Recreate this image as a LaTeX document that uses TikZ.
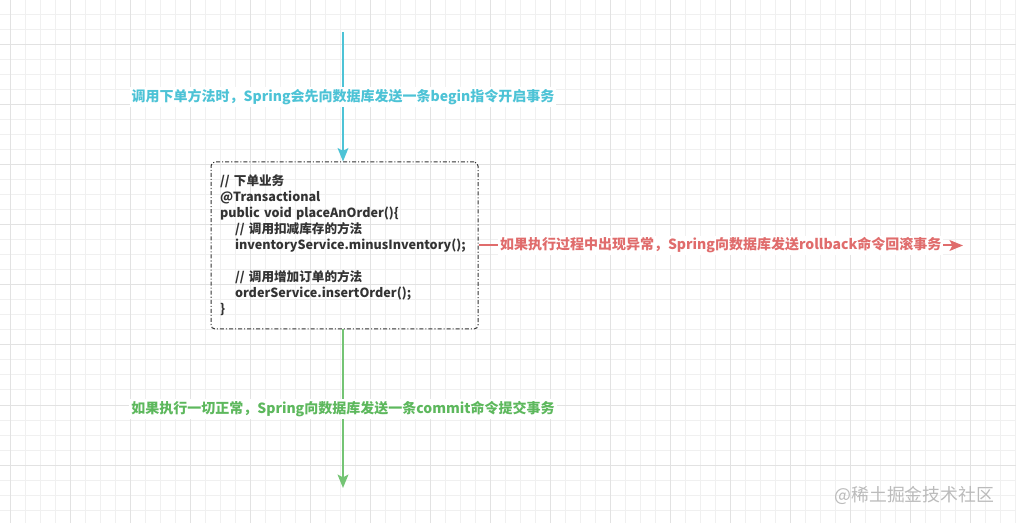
\documentclass[tikz,border=0pt]{standalone}
\usepackage{fontspec}
\setmainfont{Noto Sans CJK SC}
\newfontfamily\wmfont{Noto Sans CJK SC}
\usetikzlibrary{arrows.meta}
\definecolor{gridminor}{HTML}{F0F0F0}
\definecolor{gridmajor}{HTML}{E2E2E2}
\definecolor{cyanc}{HTML}{4DC3D6}
\definecolor{redc}{HTML}{E06C6C}
\definecolor{greenc}{HTML}{5DB85D}
\definecolor{greenline}{HTML}{74C474}
\definecolor{codec}{HTML}{333333}
\definecolor{wmc}{HTML}{BBBBBB}
\tikzset{
  minorline/.style={gridminor, line width=0.75pt},
  majorline/.style={gridmajor, line width=0.75pt},
  flow/.style={line width=1.5pt, -{Stealth[length=10pt,width=8pt,inset=2pt]}},
  flowlabel/.style={fill=white, inner sep=1.5pt, font=\fontsize{10.5}{12}\selectfont\bfseries},
  codebox/.style={draw=codec, line width=0.75pt, dash pattern=on 3pt off 1.5pt on 0.8pt off 1.5pt,
    rounded corners=3pt, minimum width=200.25pt, minimum height=125.25pt, text width=186.75pt,
    inner sep=6.75pt, align=left, text=codec, font=\fontsize{9.45}{12}\selectfont\bfseries}
}
\begin{document}
\begin{tikzpicture}[x=0.75pt, y=-0.75pt]
\useasboundingbox (0,0) rectangle (1016,523);
\fill[white] (0,0) rectangle (1016,523);
\foreach \x in {10,25,...,1015} \draw[minorline] (\x,0) -- (\x,523);
\foreach \y in {0,15,...,523} \draw[minorline] (0,\y) -- (1016,\y);
\foreach \x in {10,70,...,1015} \draw[majorline] (\x,0) -- (\x,523);
\foreach \y in {45,105,...,523} \draw[majorline] (0,\y) -- (1016,\y);

\node[codebox] (box) at (344.5,245.5) {%
// 下单业务\\
@Transactional\\
public void placeAnOrder()\{\\
\hspace*{11.25pt}// 调用扣减库存的方法\\
\hspace*{11.25pt}inventoryService.minusInventory();\\[12pt]
\hspace*{11.25pt}// 调用增加订单的方法\\
\hspace*{11.25pt}orderService.insertOrder();\\
\}};

\coordinate (ctop) at (343,32);
\coordinate (gend) at (343,488);
\coordinate (rend) at (963,245.5);

\draw[flow, cyanc] (ctop) -- (ctop |- box.north)
  node[midway, flowlabel, text=cyanc] (lblbegin) {调用下单方法时，Spring会先向数据库发送一条begin指令开启事务};
\draw[flow, redc] (box.east) -- (rend)
  node[midway, flowlabel, text=redc] (lblrollback) {如果执行过程中出现异常，Spring向数据库发送rollback命令回滚事务};
\draw[flow, greenline] (gend |- box.south) -- (gend)
  node[midway, flowlabel, text=greenc] (lblcommit) {如果执行一切正常，Spring向数据库发送一条commit命令提交事务};

\node[text=wmc, font=\wmfont\fontsize{13.4}{15}\selectfont, anchor=east] (wm) at (999,495) {@稀土掘金技术社区};
\end{tikzpicture}
\end{document}
